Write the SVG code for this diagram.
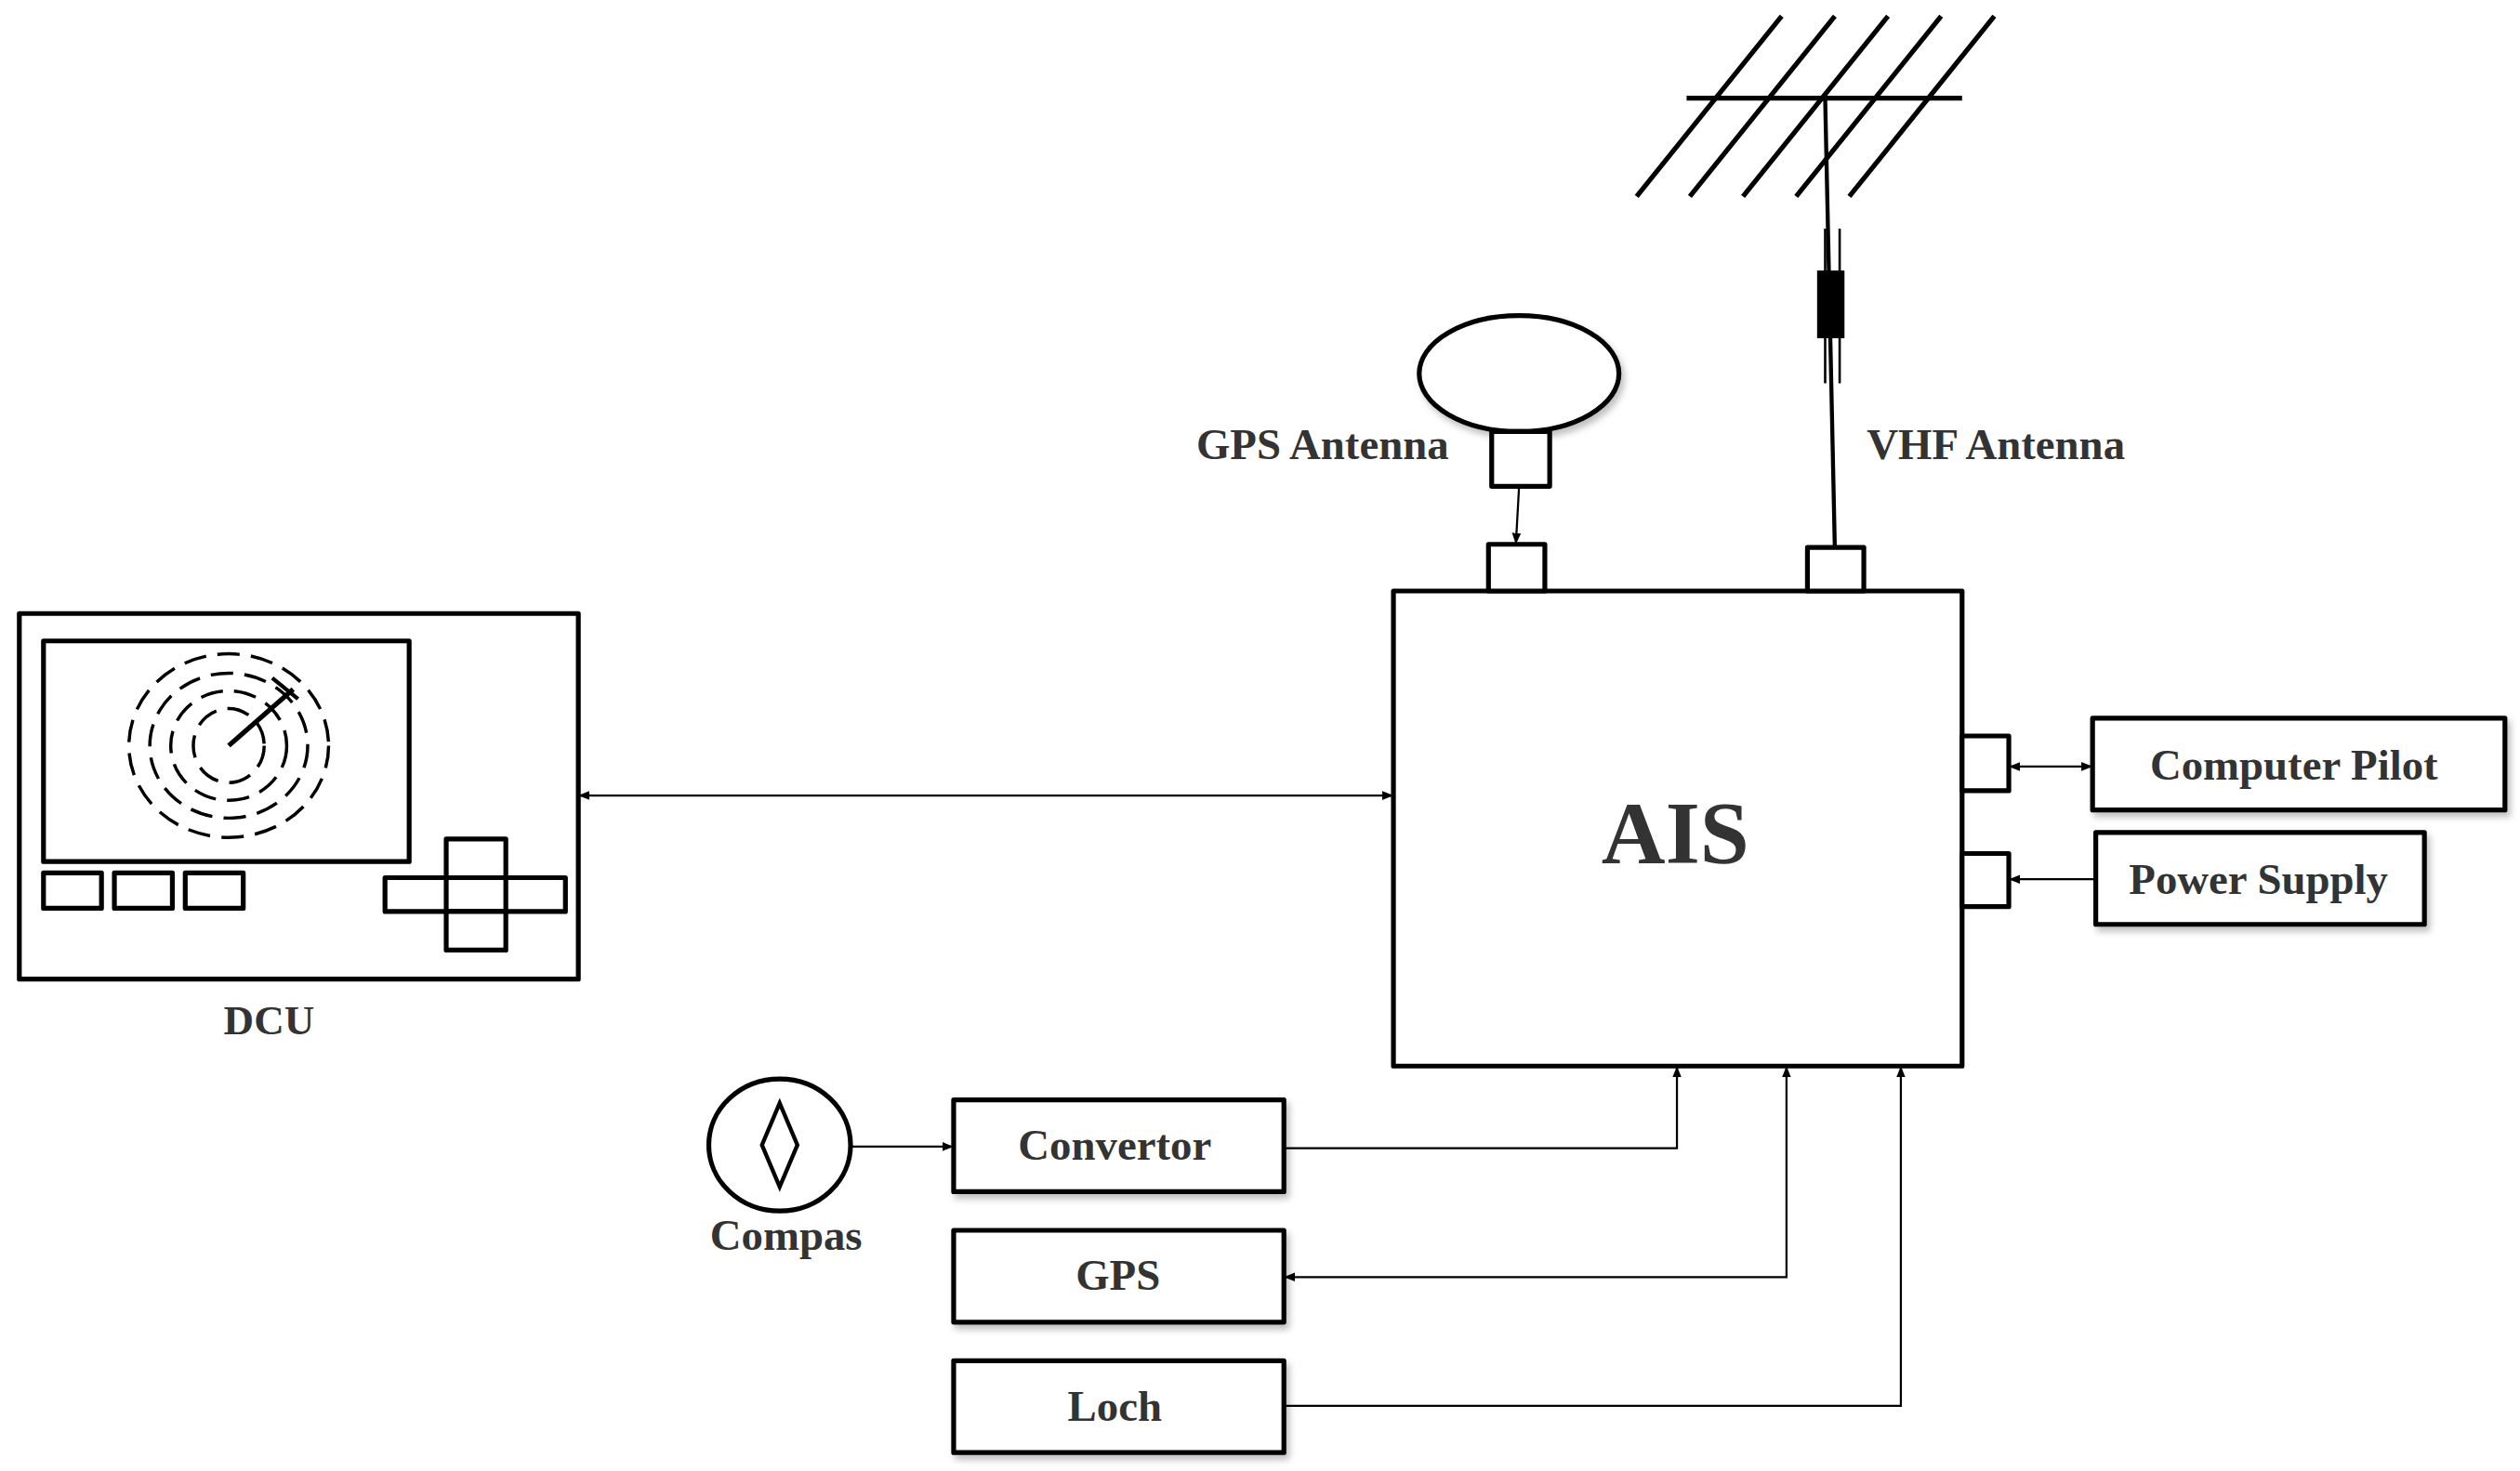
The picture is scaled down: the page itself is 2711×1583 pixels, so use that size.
<svg xmlns="http://www.w3.org/2000/svg" width="2711" height="1583" viewBox="0 0 2711 1583">
<defs>
<style>
.b{fill:#fff;stroke:#000;stroke-width:3;stroke-linejoin:round}
.t{fill:none;stroke:#000;stroke-width:3}
.c{fill:none;stroke:#000;stroke-width:1.3}
.lbl{font-family:"Liberation Serif",serif;font-weight:bold;fill:#333;text-anchor:middle}
</style>
<marker id="ah" viewBox="0 0 10 10" refX="10" refY="5" markerWidth="7" markerHeight="7" orient="auto-start-reverse" markerUnits="userSpaceOnUse"><path d="M0,1 L10,5 L0,9 Z" fill="#000"/></marker>
<filter id="sh" x="-10%" y="-10%" width="130%" height="140%"><feDropShadow dx="2" dy="3" stdDeviation="2" flood-color="#000" flood-opacity="0.25"/></filter>
</defs>
<rect width="2711" height="1583" fill="#fff"/>
<g transform="scale(1.733)">
<g id="dcu">
<rect class="b" x="12" y="381" width="347" height="227"/>
<rect class="b" x="27" y="398" width="227" height="137"/>
<g fill="none" stroke="#000" stroke-width="2" stroke-dasharray="14,7">
<ellipse cx="142" cy="463" rx="62" ry="57"/>
<ellipse cx="142" cy="463" rx="49" ry="45"/>
<ellipse cx="142" cy="463" rx="36" ry="34"/>
<ellipse cx="142" cy="463" rx="22" ry="23"/>
</g>
<line x1="142" y1="463" x2="182" y2="428" stroke="#000" stroke-width="3"/>
<line x1="169" y1="421" x2="185" y2="434" stroke="#000" stroke-width="2.5"/>
<rect class="b" x="27" y="542" width="36" height="22"/>
<rect class="b" x="71" y="542" width="36" height="22"/>
<rect class="b" x="115" y="542" width="36" height="22"/>
<rect class="b" x="239" y="545" width="112" height="21"/>
<rect class="b" x="277" y="521" width="37" height="24" fill="none"/>
<rect class="b" x="277" y="566" width="37" height="24"/>
<line class="t" x1="277" y1="545" x2="277" y2="566"/>
<line class="t" x1="314" y1="545" x2="314" y2="566"/>
<text class="lbl" x="167" y="642" font-size="26">DCU</text>
</g>
<g id="vhf-antenna" stroke="#000" fill="none">
<line x1="1047" y1="61" x2="1218" y2="61" stroke-width="3"/>
<line x1="1016" y1="122" x2="1106" y2="10" stroke-width="3"/>
<line x1="1049" y1="122" x2="1139" y2="10" stroke-width="3"/>
<line x1="1082" y1="122" x2="1172" y2="10" stroke-width="3"/>
<line x1="1115" y1="122" x2="1205" y2="10" stroke-width="3"/>
<line x1="1148" y1="122" x2="1238" y2="10" stroke-width="3"/>
<line x1="1133" y1="61" x2="1139" y2="340" stroke-width="2.5"/>
<line x1="1133" y1="142" x2="1133" y2="238" stroke-width="1.5"/>
<line x1="1142" y1="142" x2="1142" y2="238" stroke-width="1.5"/>
<rect x="1128" y="168" width="17" height="42" fill="#000" stroke="none"/>
<text class="lbl" x="1239" y="285" font-size="27" stroke="none">VHF Antenna</text>
</g>
<g id="gps-antenna">
<ellipse cx="943" cy="232" rx="62" ry="36" fill="#fff" stroke="#000" stroke-width="3" filter="url(#sh)"/>
<rect class="b" x="926" y="268" width="36" height="34"/>
<text class="lbl" x="821" y="285" font-size="27">GPS Antenna</text>
</g>
<g id="ais">
<rect class="b" x="865" y="367" width="353" height="295"/>
<rect class="b" x="924" y="338" width="35" height="29"/>
<rect class="b" x="1122" y="340" width="35" height="27"/>
<rect class="b" x="1218" y="457" width="29" height="34"/>
<rect class="b" x="1218" y="530" width="29" height="33"/>
<text class="lbl" x="1040" y="536" font-size="55" fill="#222">AIS</text>
</g>
<g id="computer-pilot"><rect class="b" x="1299" y="446" width="256" height="57" filter="url(#sh)"/><text class="lbl" x="1424" y="484" font-size="27">Computer Pilot</text></g>
<g id="power-supply"><rect class="b" x="1301" y="517" width="204" height="57" filter="url(#sh)"/><text class="lbl" x="1402" y="555" font-size="27">Power Supply</text></g>
<g id="compas">
<ellipse cx="484" cy="711" rx="44" ry="41" fill="#fff" stroke="#000" stroke-width="3"/>
<path d="M484,685 L495,711 L484,737 L473,711 Z" fill="none" stroke="#000" stroke-width="2.5"/>
<text class="lbl" x="488" y="776" font-size="27">Compas</text>
</g>
<g id="convertor"><rect class="b" x="592" y="683" width="205" height="57" filter="url(#sh)"/><text class="lbl" x="692" y="720" font-size="27">Convertor</text></g>
<g id="gps"><rect class="b" x="592" y="764" width="205" height="57" filter="url(#sh)"/><text class="lbl" x="694" y="801" font-size="27">GPS</text></g>
<g id="loch"><rect class="b" x="592" y="845" width="205" height="57" filter="url(#sh)"/><text class="lbl" x="692" y="882" font-size="27">Loch</text></g>
<g id="connectors" class="c" fill="none" stroke="#000" stroke-width="1.3">
<line x1="359" y1="494" x2="865" y2="494" marker-start="url(#ah)" marker-end="url(#ah)"/>
<line x1="943" y1="302" x2="941" y2="338" marker-end="url(#ah)"/>
<line x1="1247" y1="476" x2="1299" y2="476" marker-start="url(#ah)" marker-end="url(#ah)"/>
<line x1="1301" y1="546" x2="1247" y2="546" marker-end="url(#ah)"/>
<line x1="528" y1="712" x2="592" y2="712" marker-end="url(#ah)"/>
<polyline points="797,713 1041,713 1041,662" marker-end="url(#ah)"/>
<polyline points="1109,662 1109,793 797,793" marker-start="url(#ah)" marker-end="url(#ah)"/>
<polyline points="797,873 1180,873 1180,662" marker-end="url(#ah)"/>
</g>
</g>
</svg>
